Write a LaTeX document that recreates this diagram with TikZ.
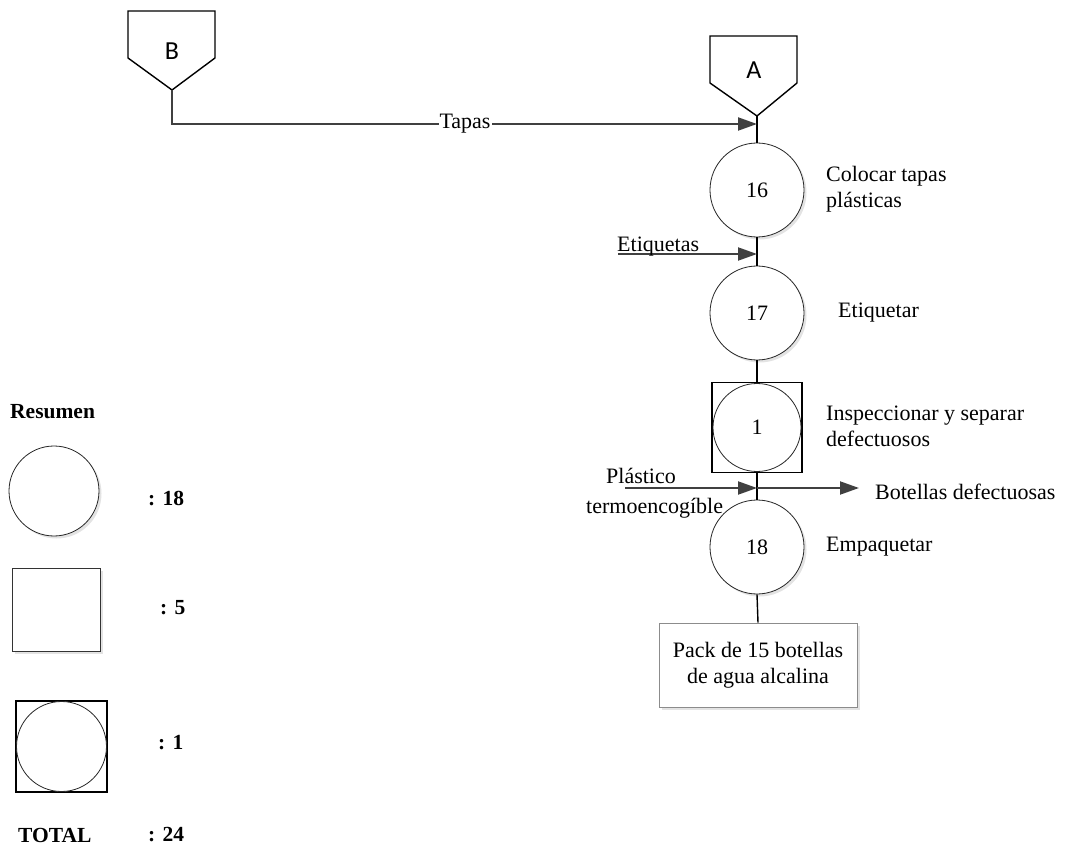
\documentclass[tikz,border=0pt]{standalone}
\usepackage{fontspec}
\setmainfont{Liberation Serif}
\newfontfamily\connfont{Carlito}
\usetikzlibrary{arrows.meta,shadows}

\begin{document}
\begin{tikzpicture}[x=1pt,y=-1pt,
  font=\fontsize{22}{26}\selectfont,
  softshadow/.style={drop shadow={opacity=0.22,shadow xshift=2.5pt,shadow yshift=-2.5pt}},
  opcircle/.style={circle,draw=black!85,line width=0.8pt,minimum size=94pt,
    inner sep=0pt,fill=white,softshadow},
  inspcircle/.style={circle,draw=black!85,line width=0.8pt,minimum size=88pt,
    inner sep=0pt,fill=white},
  inspbox/.style={rectangle,draw=black,line width=1.3pt,minimum size=90pt,
    inner sep=0pt,fill=white},
  legsquare/.style={rectangle,draw=black!80,line width=0.8pt,minimum width=88pt,
    minimum height=83pt,fill=white,softshadow},
  connector/.style={draw,line width=1.4pt,line join=miter},
  connlabel/.style={font=\connfont\fontsize{26}{30}\selectfont},
  link/.style={draw=black,line width=1.4pt},
  flow/.style={draw=black!75,line width=2pt,
    -{Triangle[length=19pt,width=13pt]}},
  sidelabel/.style={anchor=west,align=left,inner sep=0pt},
  legtext/.style={font=\fontsize{21.5}{25}\selectfont\bfseries,anchor=west,inner sep=0pt},
  endbox/.style={rectangle,draw=black!45,line width=0.8pt,fill=white,
    minimum width=198pt,minimum height=84pt,align=center,softshadow}]

\useasboundingbox (0,0) rectangle (1069,850);

% off-page connectors B and A
\draw[connector] (128,11) -- (215,11) -- (215,58) -- (172,90) -- (128,58) -- cycle;
\node[connlabel] (B) at (172,51) {B};
\coordinate (Btip) at (172,90);

\draw[connector] (710,36) -- (797,36) -- (797,83) -- (757,116) -- (710,83) -- cycle;
\node[connlabel] (A) at (754,70) {A};
\coordinate (Atip) at (757,116);

% process steps
\node[opcircle] (o16) at (757,190) {16};
\node[opcircle] (o17) at (757,313) {17};
\node[inspbox] (i1) at (757,427.5) {};
\node[inspcircle] (c1) at (757,427.5) {1};
\node[opcircle] (o18) at (757,547) {18};
\node[endbox] (pack) at (758,665) {Pack de 15 botellas\\de agua alcalina};

% main line
\draw[link] (Atip) -- (o16.north);
\draw[link] (o16.south) -- (o17.north);
\draw[link] (o17.south) -- (i1.north);
\draw[link] (i1.south) -- (o18.north);
\draw[link] (o18.south) -- (pack.north);

% material inputs and outputs
\coordinate (jTapas) at (757,124);
\draw[flow] (Btip) |- (jTapas);
\node[fill=white,inner sep=1pt] (tapas) at (465,124) {Tapas};

\coordinate (eStart) at (618,254);
\coordinate (jEtiq) at (757,254);
\draw[flow] (eStart) -- (jEtiq);
\node[anchor=base west,inner sep=0pt] (etiq) at (617,252) {Etiquetas};

\coordinate (pStart) at (625,488);
\coordinate (jPlas) at (757,488);
\coordinate (dEnd) at (859,488);
\draw[flow] (pStart) -- (jPlas);
\draw[flow] (jPlas) -- (dEnd);
\node[anchor=base west,inner sep=0pt] (plas1) at (606,483) {Plástico};
\node[anchor=base west,inner sep=0pt] (plas2) at (586,513) {termoencogíble};
\node[anchor=west,inner sep=0pt] (defect) at (875,492) {Botellas defectuosas};

% step descriptions
\node[sidelabel] (t16) at (826,189) {Colocar tapas\\plásticas};
\node[sidelabel] (t17) at (838,313) {Etiquetar};
\node[sidelabel] (t1) at (826,426) {Inspeccionar y separar\\defectuosos};
\node[sidelabel] (t18) at (826,547) {Empaquetar};

% summary
\node[legtext] (res) at (10,412) {Resumen};
\node[opcircle,minimum size=90pt] (lc) at (54,491) {};
\node[legtext] (n18) at (148,499) {: 18};
\node[legsquare] (ls) at (56,609.5) {};
\node[legtext] (n5) at (160,608) {: 5};
\node[inspbox,line width=1.1pt,minimum width=91pt,minimum height=91pt] (lib) at (61.5,746.5) {};
\node[inspcircle,minimum size=90pt] (lic) at (61.5,746.5) {};
\node[legtext] (n1) at (158,743) {: 1};
\node[legtext] (tot) at (18,835) {TOTAL};
\node[legtext] (n24) at (148,835) {: 24};

\end{tikzpicture}
\end{document}
